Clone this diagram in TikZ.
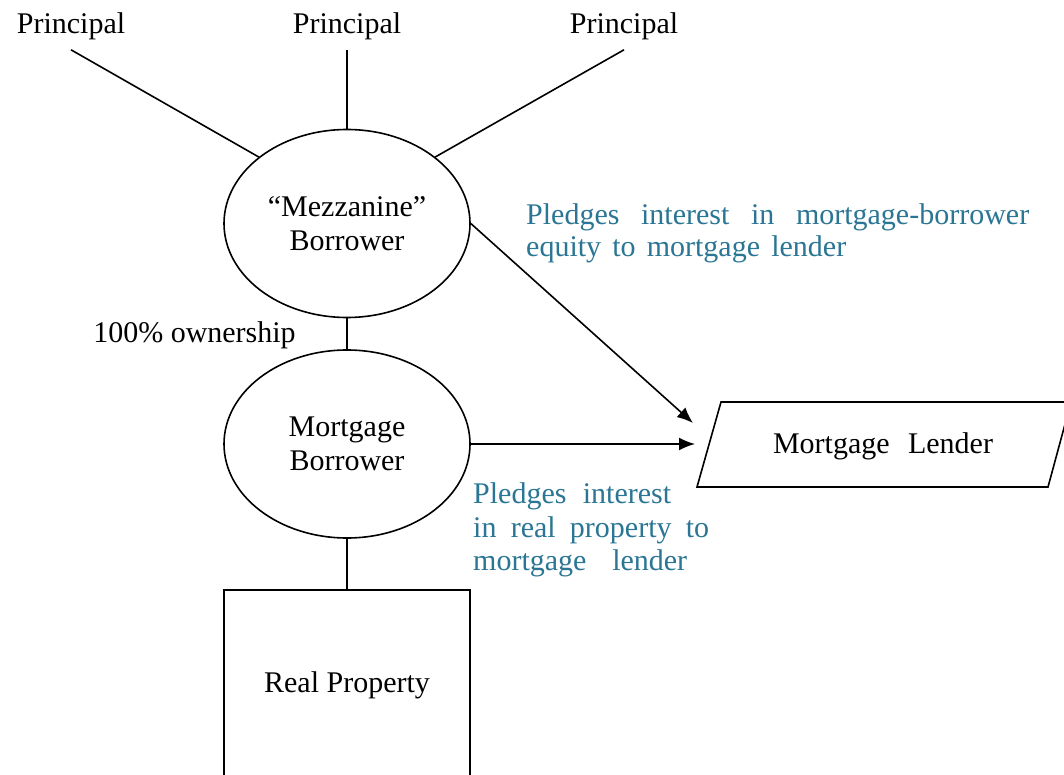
\documentclass[tikz,border=0pt]{standalone}
\usepackage{fontspec}
\setmainfont{Liberation Serif}
\usetikzlibrary{shapes.geometric,arrows.meta}
\definecolor{pledgeblue}{RGB}{42,118,148}
\tikzset{
  txt/.style={inner sep=0pt, font=\fontsize{30}{34}\selectfont},
  bluetxt/.style={txt, text=pledgeblue, anchor=base west},
  link/.style={draw=black, line width=1.6pt},
  arr/.style={link, -{Latex[length=16pt,width=13pt]}},
  entity/.style={ellipse, draw, line width=1.6pt, minimum width=246pt, minimum height=188pt, inner sep=0pt, align=center, font=\fontsize{30}{34}\selectfont},
  boxnode/.style={rectangle, draw, line width=1.6pt, minimum width=246pt, minimum height=190pt, inner sep=0pt, font=\fontsize{30}{34}\selectfont}
}
\begin{document}
\begin{tikzpicture}[x=1pt,y=-1pt]
\useasboundingbox (0,0) rectangle (1064,775);
\clip (0,0) rectangle (1064,775);
\fill[white] (0,0) rectangle (1064,775);

% Principals
\node[txt] (pl) at (71,26) {Principal};
\node[txt] (pm) at (347,26) {Principal};
\node[txt] (pr) at (624,26) {Principal};

% Borrowers
\node[entity] (mezz) at (347,223.5) {``Mezzanine''\\Borrower};
\node[entity] (mort) at (347,444) {Mortgage\\Borrower};

% Real property
\node[boxnode] (prop) at (347,685) {Real Property};

% Mortgage lender (parallelogram)
\coordinate (lbl) at (697,487);
\coordinate (ltl) at (721,402);
\coordinate (ltr) at (1071,402);
\coordinate (lbr) at (1048,487);
\draw[line width=1.6pt] (lbl) -- (ltl) -- (ltr) -- (lbr) -- cycle;
\node[txt] (lender) at (883,446) {\hbox to 220pt{Mortgage\hfill Lender}};
\coordinate (tipA) at (693,423);
\coordinate (tipB) at (695,444);

% ownership label
\node[txt] (own) at (194.5,335) {100\% ownership};

% blue labels
\node[bluetxt] (pa1) at (526,225) {\hbox to 503pt{Pledges interest in mortgage-borrower}};
\node[bluetxt] (pa2) at (526,257) {\hbox to 320pt{equity to mortgage lender}};
\node[bluetxt] (pb1) at (473,503) {\hbox to 198pt{Pledges interest}};
\node[bluetxt] (pb2) at (473,537) {\hbox to 236pt{in real property to}};
\node[bluetxt] (pb3) at (473,570) {\hbox to 214pt{mortgage lender}};

% connectors
\draw[link] ([yshift=-10pt]pl.south) -- (mezz.143);
\draw[link] ([yshift=-10pt]pm.south) -- (mezz.north);
\draw[link] ([yshift=-10pt]pr.south) -- (mezz.37);
\draw[link] (mezz.south) -- (mort.north);
\draw[link] (mort.south) -- (prop.north);
\draw[arr] (mezz.east) -- (tipA);
\draw[arr] (mort.east) -- (tipB);
\end{tikzpicture}
\end{document}
